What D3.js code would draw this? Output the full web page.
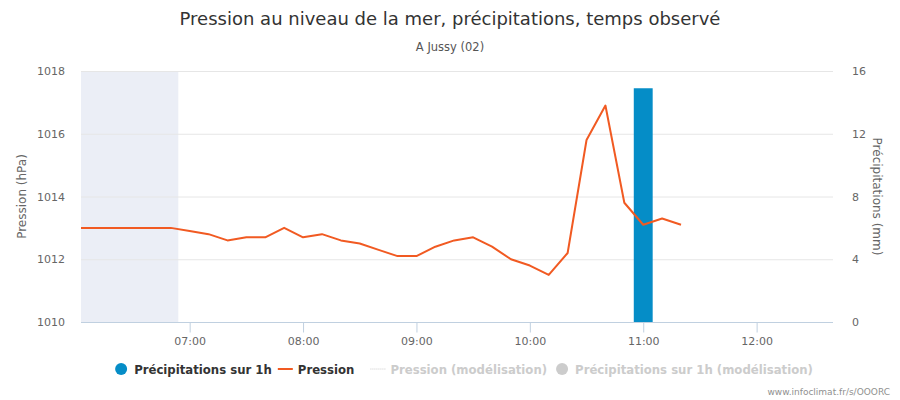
<!DOCTYPE html>
<html><head><meta charset="utf-8">
<script src="https://cdn.jsdelivr.net/npm/d3@7"></script>
<style>
body{margin:0;background:#fff;}
svg{display:block;font-family:"DejaVu Sans",sans-serif;}
</style></head>
<body><svg id="c" width="900" height="400"></svg>
<script>
const title = "Pression au niveau de la mer, précipitations, temps observé";
const subtitle = "A Jussy (02)";
const times = ["06:00","06:10","06:20","06:30","06:40","06:50","07:00","07:10","07:20","07:30","07:40","07:50",
  "08:00","08:10","08:20","08:30","08:40","08:50","09:00","09:10","09:20","09:30","09:40","09:50",
  "10:00","10:10","10:20","10:30","10:40","10:50","11:00","11:10","11:20"];
const pressure = [1013.0,1013.0,1013.0,1013.0,1013.0,1013.0,1012.9,1012.8,1012.6,1012.7,1012.7,1013.0,
  1012.7,1012.8,1012.6,1012.5,1012.3,1012.1,1012.1,1012.4,1012.6,1012.7,1012.4,1012.0,
  1011.8,1011.5,1012.2,1015.8,1016.9,1013.8,1013.1,1013.3,1013.1];
const precipTimes = ["11:00"];
const precip = [14.9];
const xDomain = ["06:02:30","12:40:25"];
const nightBand = ["06:00","06:54"];
const xTicks = ["07:00","08:00","09:00","10:00","11:00","12:00"];
const leftTicks = [1010,1012,1014,1016,1018];
const rightTicks = [0,4,8,12,16];
const legendItems = [
  {name:"Précipitations sur 1h", type:"circle", color:"#058DC7", active:true},
  {name:"Pression", type:"line", color:"#F15A22", active:true},
  {name:"Pression (modélisation)", type:"dotted", color:"#CCCCCC", active:false},
  {name:"Précipitations sur 1h (modélisation)", type:"circle", color:"#CCCCCC", active:false}
];
const legendGaps = [6,16,8,0];
const credit = "www.infoclimat.fr/s/OOORC";

const parse = s => { const p = s.split(":").map(Number); return new Date(2020,0,1,p[0],p[1],p[2]||0); };
const svg = d3.select("#c");
const L = 81, R = 833, T = 71, B = 322;
const x = d3.scaleTime().domain(xDomain.map(parse)).range([L, R]);
const yL = d3.scaleLinear().domain([1010,1018]).range([B, T]);
const yR = d3.scaleLinear().domain([0,16]).range([B, T]);

svg.append("defs").append("clipPath").attr("id","clip").append("rect")
  .attr("x",L).attr("y",T-5).attr("width",R-L).attr("height",B-T+5);

// night band
svg.append("rect").attr("x",x(parse(nightBand[0]))).attr("y",T)
  .attr("width",x(parse(nightBand[1]))-x(parse(nightBand[0]))).attr("height",B-T)
  .attr("fill","#EBEEF6").attr("clip-path","url(#clip)");

// grid
svg.append("g").selectAll("line").data(leftTicks.slice(1)).join("line")
  .attr("x1",L).attr("x2",R).attr("y1",d=>yL(d)+0.5).attr("y2",d=>yL(d)+0.5)
  .attr("stroke","#E6E6E6").attr("stroke-width",1);

// left axis labels
svg.append("g").selectAll("text").data(leftTicks).join("text")
  .attr("x",65).attr("y",d=>yL(d)+4).attr("text-anchor","end")
  .attr("font-size","11px").attr("fill","#666").text(d=>d);
// right axis labels
svg.append("g").selectAll("text").data(rightTicks).join("text")
  .attr("x",852).attr("y",d=>yR(d)+4).attr("text-anchor","start")
  .attr("font-size","11px").attr("fill","#666").text(d=>d);

// axis titles
svg.append("text").attr("transform",`translate(26,${(T+B)/2}) rotate(-90)`)
  .attr("text-anchor","middle").attr("font-size","12px").attr("fill","#666").text("Pression (hPa)");
svg.append("text").attr("transform",`translate(873,${(T+B)/2}) rotate(90)`)
  .attr("text-anchor","middle").attr("font-size","12px").attr("fill","#666").text("Précipitations (mm)");

// bars
svg.append("g").selectAll("rect").data(precip).join("rect")
  .attr("x",(d,i)=>x(d3.timeMinute.offset(parse(precipTimes[i]),-5)))
  .attr("width",(d,i)=>x(d3.timeMinute.offset(parse(precipTimes[i]),5))-x(d3.timeMinute.offset(parse(precipTimes[i]),-5)))
  .attr("y",d=>yR(d)).attr("height",d=>B-yR(d)).attr("fill","#058DC7");

// x axis
const xAxis = d3.axisBottom(x).tickValues(xTicks.map(parse)).tickFormat(d3.timeFormat("%H:%M")).tickSize(10).tickPadding(5);
const gx = svg.append("g").attr("transform",`translate(0,${B+0.5})`).call(xAxis);
gx.select(".domain").attr("stroke","#C0D0E0").attr("d",`M${L},0H${R}`);
gx.selectAll(".tick line").attr("stroke","#C0D0E0");
gx.selectAll(".tick text").attr("fill","#666").attr("font-size","11px").attr("font-family","DejaVu Sans");

// pressure line
svg.append("path").datum(pressure).attr("clip-path","url(#clip)")
  .attr("d",d3.line().x((d,i)=>x(parse(times[i]))).y(d=>yL(d)))
  .attr("fill","none").attr("stroke","#F15A22").attr("stroke-width",2).attr("stroke-linejoin","round");

// title
svg.append("text").attr("x",450).attr("y",25).attr("text-anchor","middle")
  .attr("font-size","18px").attr("fill","#333").text(title);
svg.append("text").attr("x",450).attr("y",51).attr("text-anchor","middle")
  .attr("font-size","11.5px").attr("fill","#555").text(subtitle);

// legend
const lg = svg.append("g").attr("font-family","'DejaVu Sans Condensed','DejaVu Sans',sans-serif")
  .attr("font-weight","bold").attr("font-size","13px");
let cx = 0;
legendItems.forEach((it,i) => {
  const g = lg.append("g").attr("transform",`translate(${cx},0)`);
  if (it.type==="circle") g.append("circle").attr("cx",7).attr("cy",0).attr("r",6).attr("fill",it.color);
  else g.append("line").attr("x1",0).attr("x2",15).attr("y1",0).attr("y2",0).attr("stroke",it.color)
        .attr("stroke-width",it.type==="line"?2:1).attr("stroke-dasharray",it.type==="dotted"?"1,1":null);
  const tx = it.type==="circle" ? 20 : 20;
  const t = g.append("text").attr("x",tx).attr("y",5).attr("fill",it.active?"#333":"#CCC").text(it.name);
  cx += tx + t.node().getComputedTextLength() + legendGaps[i];
});
lg.attr("transform",`translate(${463.5 - cx/2},369)`);

// credit
svg.append("text").attr("x",890).attr("y",395).attr("text-anchor","end")
  .attr("font-size","9px").attr("fill","#909090").text(credit);
</script></body></html>
